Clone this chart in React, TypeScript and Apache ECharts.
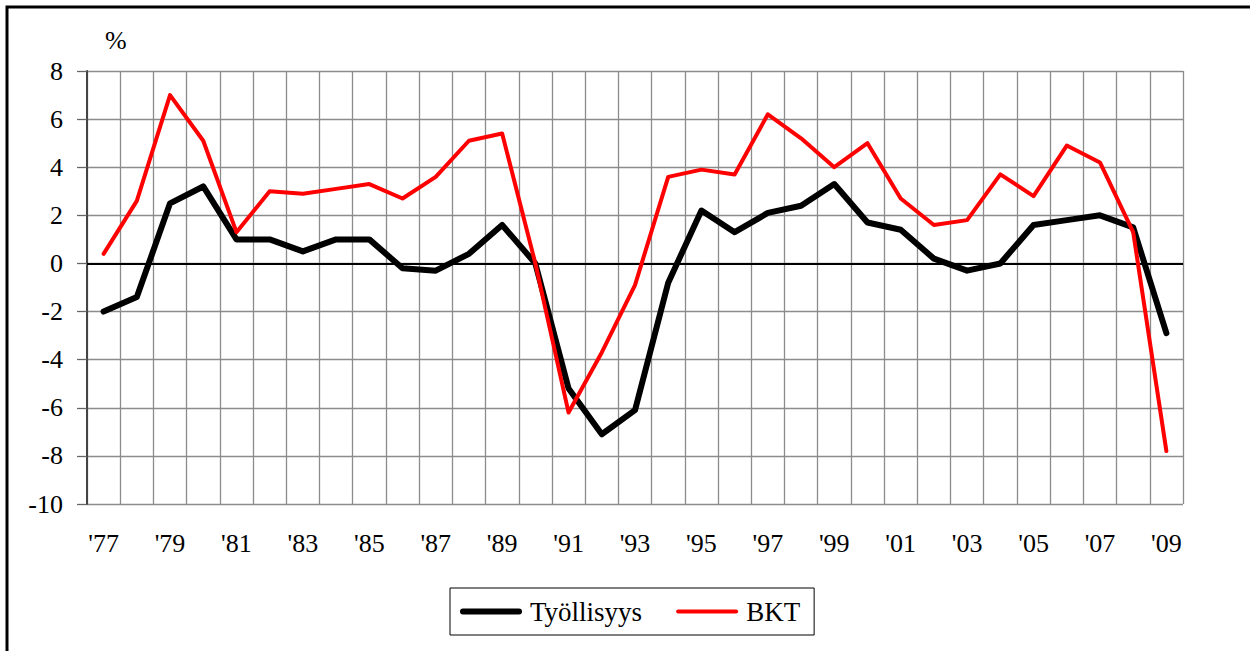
import React, { useEffect, useRef } from "react";
import * as echarts from "echarts";

const categories = [
  "'77", "'78", "'79", "'80", "'81", "'82", "'83", "'84", "'85", "'86",
  "'87", "'88", "'89", "'90", "'91", "'92", "'93", "'94", "'95", "'96",
  "'97", "'98", "'99", "'00", "'01", "'02", "'03", "'04", "'05", "'06",
  "'07", "'08", "'09",
];

const tyollisyys = [
  -2.0, -1.4, 2.5, 3.2, 1.0, 1.0, 0.5, 1.0, 1.0, -0.2,
  -0.3, 0.4, 1.6, 0.0, -5.2, -7.1, -6.1, -0.8, 2.2, 1.3,
  2.1, 2.4, 3.3, 1.7, 1.4, 0.2, -0.3, 0.0, 1.6, 1.8,
  2.0, 1.5, -2.9,
];

const bkt = [
  0.4, 2.6, 7.0, 5.1, 1.3, 3.0, 2.9, 3.1, 3.3, 2.7,
  3.6, 5.1, 5.4, 0.0, -6.2, -3.7, -0.9, 3.6, 3.9, 3.7,
  6.2, 5.2, 4.0, 5.0, 2.7, 1.6, 1.8, 3.7, 2.8, 4.9,
  4.2, 1.3, -7.8,
];

const seriesNames = ["Työllisyys", "BKT"];
const yMin = -10;
const yMax = 8;
const yStep = 2;
const unitLabel = "%";

const FONT = "Liberation Serif";

const legendIconBlack = "path://M3,0 L59,0 A3,3 0 0 1 59,6 L3,6 A3,3 0 0 1 3,0 Z";
const legendIconRed = "path://M2,0 L60,0 A2,2 0 0 1 60,4 L2,4 A2,2 0 0 1 2,0 Z";

export default function App() {
  const ref = useRef<HTMLDivElement>(null);

  useEffect(() => {
    document.body.style.margin = "0";
    const chart = echarts.init(ref.current!, null, { renderer: "svg" });
    chart.setOption({
      animation: false,
      backgroundColor: "#ffffff",
      textStyle: { fontFamily: FONT, color: "#000" },
      graphic: [
        {
          type: "rect",
          shape: { x: 7, y: 7, width: 1400, height: 800 },
          style: { fill: "none", stroke: "#000", lineWidth: 3 },
          silent: true,
        },
        {
          type: "text",
          x: 105,
          y: 27,
          style: { text: unitLabel, fontFamily: FONT, fontSize: 26, fill: "#000" },
        },
      ],
      grid: { left: 87, top: 71, right: 67, bottom: 147, containLabel: false },
      legend: {
        left: 450,
        top: 588,
        orient: "horizontal",
        padding: [10, 14, 10, 10],
        itemGap: 34,
        itemWidth: 62,
        itemHeight: 14,
        borderColor: "#000",
        borderWidth: 1,
        backgroundColor: "#fff",
        textStyle: { fontFamily: FONT, fontSize: 27, color: "#000", padding: [0, 0, 0, 3] },
        data: [
          { name: seriesNames[0], icon: legendIconBlack },
          { name: seriesNames[1], icon: legendIconRed },
        ],
      },
      xAxis: {
        type: "category",
        data: categories,
        boundaryGap: true,
        axisLine: { show: true, lineStyle: { color: "#888", width: 2 } },
        axisTick: { show: false },
        axisLabel: {
          interval: 1,
          fontFamily: FONT,
          fontSize: 26,
          color: "#000",
          margin: 26,
        },
        splitLine: { show: true, interval: 0, lineStyle: { color: "#8c8c8c", width: 1.3 } },
      },
      yAxis: {
        type: "value",
        min: yMin,
        max: yMax,
        interval: yStep,
        axisLine: { show: true, lineStyle: { color: "#444", width: 2 } },
        axisTick: { show: true, length: 10, lineStyle: { color: "#666", width: 1.3 } },
        axisLabel: {
          fontFamily: FONT,
          fontSize: 26,
          color: "#000",
          margin: 24,
        },
        splitLine: { show: true, lineStyle: { color: "#8c8c8c", width: 1.3 } },
      },
      series: [
        {
          name: seriesNames[0],
          type: "line",
          data: tyollisyys,
          symbol: "none",
          lineStyle: { color: "#000", width: 6, cap: "round", join: "round" },
          itemStyle: { color: "#000" },
          z: 3,
          markLine: {
            silent: true,
            symbol: ["none", "none"],
            label: { show: false },
            lineStyle: { color: "#000", width: 2, type: "solid" },
            data: [{ yAxis: 0 }],
            z: 2,
          },
        },
        {
          name: seriesNames[1],
          type: "line",
          data: bkt,
          symbol: "none",
          lineStyle: { color: "#ff0000", width: 4, cap: "round", join: "round" },
          itemStyle: { color: "#ff0000" },
          z: 4,
        },
      ],
    });
    return () => chart.dispose();
  }, []);

  return <div ref={ref} style={{ width: 1250, height: 651 }} />;
}
